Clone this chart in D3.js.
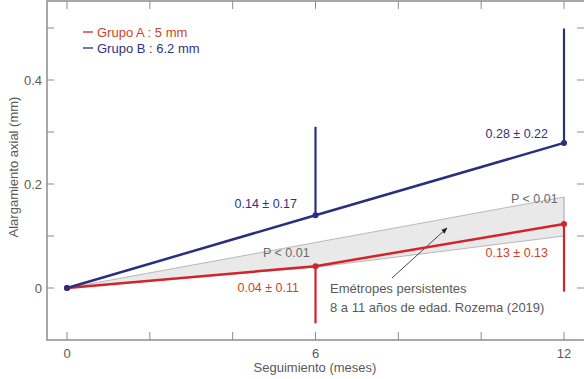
<!DOCTYPE html>
<html><head><meta charset="utf-8">
<script src="https://cdn.jsdelivr.net/npm/d3@7"></script>
<style>
body{margin:0;background:#fff;}
text{font-family:"Liberation Sans",Arial,sans-serif;}
</style></head>
<body><svg id="c" width="584" height="379"></svg>
<script>
// ---- data ----
const months = [0, 6, 12];
const grupoA = [0, 0.042, 0.123];        // mean (red)
const grupoASD = [0, 0.11, 0.13];        // error bar (downwards)
const grupoB = [0, 0.140, 0.279];        // mean (blue)
const grupoBSD = [0, 0.17, 0.22];        // error bar (upwards)
const bandUpper = [0, 0.0875, 0.175];    // Rozema (2019) band
const bandLower = [0, 0.040, 0.100];
const labelsA = ["", "0.04 ± 0.11", "0.13 ± 0.13"];
const labelsB = ["", "0.14 ± 0.17", "0.28 ± 0.22"];
const xTickLabels = [0, 6, 12];
const xMinorTicks = [0, 2, 4, 6, 8, 10, 12];
const yTickLabels = [0, 0.2, 0.4];
const yMinorTicks = [-0.1, 0, 0.1, 0.2, 0.3, 0.4, 0.5];
const legend = [{name:"Grupo A : 5 mm", key:"A"}, {name:"Grupo B : 6.2 mm", key:"B"}];

const RED = "#d4232b", RED_T = "#cf4429", BLUE = "#2b2e7e", BLUE_T = "#2f3282", GRAY_T = "#5a5a5a", AX = "#8c8c8c";

const svg = d3.select("#c");
const L = 47, R = 585, T = 1, B = 340;
const x = d3.scaleLinear().domain([0, 12]).range([67, 564]);
const y = d3.scaleLinear().domain([-0.1, 0.4]).range([B, 80]);

// frame
svg.append("path").attr("d", `M${L},${T}H${R}V${B}H${L}Z`)
  .attr("fill","none").attr("stroke",AX).attr("stroke-width",1.5);

// ticks (inward)
const tk = svg.append("g").attr("stroke",AX).attr("stroke-width",1);
xMinorTicks.forEach(m => {
  tk.append("line").attr("x1",x(m)).attr("x2",x(m)).attr("y1",B).attr("y2",B-8);
  tk.append("line").attr("x1",x(m)).attr("x2",x(m)).attr("y1",T).attr("y2",T+8);
});
yMinorTicks.forEach(v => {
  if (y(v) < T + 2 || y(v) > B - 2) return;
  tk.append("line").attr("x1",L).attr("x2",L+7).attr("y1",y(v)).attr("y2",y(v));
  tk.append("line").attr("x1",R).attr("x2",R-8).attr("y1",y(v)).attr("y2",y(v));
});

// tick labels
svg.append("g").selectAll("text").data(xTickLabels).join("text")
  .attr("x", d => x(d)).attr("y", 358).attr("text-anchor","middle")
  .attr("font-size",13).attr("fill",GRAY_T).text(d => d);
svg.append("g").selectAll("text").data(yTickLabels).join("text")
  .attr("x", 42).attr("y", d => y(d) + 4.5).attr("text-anchor","end")
  .attr("font-size",13).attr("fill",GRAY_T).text(d => d3.format("~g")(d));

// axis titles
svg.append("text").attr("x", 315).attr("y", 372).attr("text-anchor","middle")
  .attr("font-size",13).attr("fill",GRAY_T).text("Seguimiento (meses)");
svg.append("text").attr("transform","translate(18,167) rotate(-90)").attr("text-anchor","middle")
  .attr("font-size",13).attr("fill",GRAY_T).text("Alargamiento axial (mm)");

// band
const bandArea = d3.area().x((d,i) => x(months[i])).y0((d,i) => y(bandLower[i])).y1(d => y(d));
svg.append("path").attr("d", bandArea(bandUpper))
  .attr("fill","#e9e9e9").attr("stroke","#a8a8a8").attr("stroke-width",0.8);
svg.append("line").attr("x1",x(12)).attr("x2",x(12)).attr("y1",y(bandUpper[2])).attr("y2",y(bandLower[2]))
  .attr("stroke","#bbb").attr("stroke-width",0.8);

// P labels
svg.append("text").attr("x", 263).attr("y", 257).attr("font-size",12.5).attr("fill","#6a6a6a").text("P < 0.01");
svg.append("text").attr("x", 511).attr("y", 203).attr("font-size",12.5).attr("fill","#6a6a6a").text("P < 0.01");

// annotation arrow
svg.append("defs").append("marker").attr("id","ah").attr("viewBox","0 0 10 10")
  .attr("refX",9).attr("refY",5).attr("markerWidth",7).attr("markerHeight",7).attr("orient","auto")
  .append("path").attr("d","M0,1L10,5L0,9Z").attr("fill","#222");
svg.append("line").attr("x1",392).attr("y1",278).attr("x2",447).attr("y2",228)
  .attr("stroke","#333").attr("stroke-width",0.9).attr("marker-end","url(#ah)");
svg.append("text").attr("x",330).attr("y",293).attr("font-size",13).attr("fill",GRAY_T).text("Emétropes persistentes");
svg.append("text").attr("x",330).attr("y",312).attr("font-size",13).attr("fill",GRAY_T).text("8 a 11 años de edad. Rozema (2019)");

// lines
const line = d3.line().x((d,i) => x(months[i])).y(d => y(d));
// error bars
months.forEach((m,i) => {
  if (!grupoASD[i]) return;
  svg.append("line").attr("x1",x(m)).attr("x2",x(m)).attr("y1",y(grupoA[i])).attr("y2",y(grupoA[i]-grupoASD[i]))
    .attr("stroke",RED).attr("stroke-width",2.2);
});
months.forEach((m,i) => {
  if (!grupoBSD[i]) return;
  svg.append("line").attr("x1",x(m)).attr("x2",x(m)).attr("y1",y(grupoB[i])).attr("y2",y(grupoB[i]+grupoBSD[i]))
    .attr("stroke",BLUE).attr("stroke-width",2.2);
});
svg.append("path").attr("d", line(grupoA)).attr("fill","none").attr("stroke",RED).attr("stroke-width",2.5);
svg.append("path").attr("d", line(grupoB)).attr("fill","none").attr("stroke",BLUE).attr("stroke-width",2.5);
svg.append("g").selectAll("circle").data(grupoA).join("circle")
  .attr("cx",(d,i)=>x(months[i])).attr("cy",d=>y(d)).attr("r",3).attr("fill",RED);
svg.append("g").selectAll("circle").data(grupoB).join("circle")
  .attr("cx",(d,i)=>x(months[i])).attr("cy",d=>y(d)).attr("r",3).attr("fill",BLUE);

// value labels
const lblA = [null, {x:299, y:292}, {x:548, y:257}];
const lblB = [null, {x:297, y:208}, {x:548, y:138}];
labelsA.forEach((t,i) => { if (!t) return;
  svg.append("text").attr("x", x(months[i]) - (x(months[i]) - lblA[i].x)).attr("y", lblA[i].y)
    .attr("text-anchor","end").attr("font-size",12.5).attr("fill",RED_T).text(t); });
labelsB.forEach((t,i) => { if (!t) return;
  svg.append("text").attr("x", lblB[i].x).attr("y", lblB[i].y)
    .attr("text-anchor","end").attr("font-size",12.5).attr("fill",BLUE_T).text(t); });

// legend
const lg = svg.append("g");
legend.forEach((d,i) => {
  const yy = 32 + i*16;
  lg.append("line").attr("x1",83).attr("x2",93).attr("y1",yy).attr("y2",yy)
    .attr("stroke", d.key==="A"?RED:BLUE).attr("stroke-width",1.3);
  lg.append("text").attr("x",97).attr("y",yy+4.5).attr("font-size",13)
    .attr("fill", d.key==="A"?RED_T:BLUE_T).text(d.name);
});
</script></body></html>
